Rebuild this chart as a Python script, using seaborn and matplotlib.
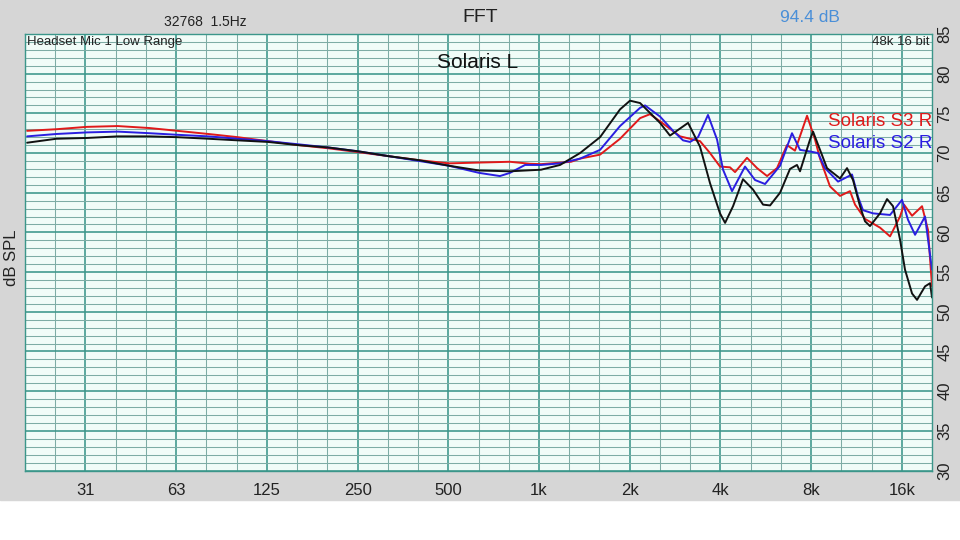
import numpy as np
import pandas as pd
import matplotlib
matplotlib.use("Agg")
import matplotlib.pyplot as plt
import matplotlib.ticker as ticker
from matplotlib.patches import Rectangle
import seaborn as sns

# frequency response readings (Hz, dB SPL)
red_freq = [20, 25, 31.6, 40, 51, 63, 80, 100, 126, 159, 200, 253, 318, 400, 503, 633, 801, 934, 1016,
            1278, 1369, 1595, 1858, 2166, 2337, 2522, 2940, 3424, 3696, 3989, 4306, 4475, 4903, 5295,
            5716, 6167, 6655, 7075, 7758, 8246, 8567, 9244, 9983, 10774, 11194, 12082, 13551, 14628,
            15789, 16278, 17309, 18682, 19556, 20160]
red_db = [72.8, 73.0, 73.3, 73.4, 73.15, 72.8, 72.4, 72.0, 71.5, 71.0, 70.6, 70.1, 69.6, 69.1, 68.7, 68.8,
          68.9, 68.65, 68.6, 68.9, 69.3, 69.8, 71.8, 74.4, 74.9, 74.0, 72.1, 71.5, 70.0, 68.3, 68.2, 67.6,
          69.4, 68.1, 67.1, 68.1, 71.0, 70.3, 74.7, 71.7, 69.3, 65.8, 64.6, 65.2, 63.5, 61.7, 60.6, 59.5,
          62.0, 63.5, 62.1, 63.3, 60.3, 53.2]

blue_freq = [20, 25, 31.6, 40, 51, 63, 80, 100, 126, 159, 200, 253, 318, 400, 503, 633, 742, 801, 899,
             1016, 1175, 1369, 1595, 1858, 2166, 2249, 2522, 2787, 3007, 3172, 3373, 3639, 3900, 4083,
             4373, 4829, 5214, 5628, 6311, 6915, 7352, 7937, 8437, 8900, 9833, 10940, 11452, 11897,
             12847, 14628, 16030, 16778, 17711, 19113, 20160]
blue_db = [72.1, 72.4, 72.6, 72.7, 72.5, 72.3, 72.1, 71.8, 71.5, 71.1, 70.7, 70.2, 69.6, 69.0, 68.4, 67.5,
           67.1, 67.5, 68.5, 68.5, 68.7, 69.3, 70.4, 73.4, 75.7, 76.0, 74.6, 72.8, 71.6, 71.4, 72.0, 74.8,
           71.7, 67.9, 65.2, 68.3, 66.6, 66.1, 68.4, 72.5, 70.4, 70.2, 70.0, 68.1, 66.4, 67.3, 64.5, 62.8,
           62.4, 62.2, 64.1, 61.6, 59.7, 62.0, 55.3]

black_freq = [20, 25, 31.6, 40, 51, 63, 80, 100, 126, 159, 200, 253, 318, 400, 503, 633, 801, 1016, 1175,
              1369, 1595, 1858, 2005, 2166, 2522, 2722, 3125, 3424, 3696, 3989, 4147, 4407, 4755, 5133,
              5543, 5848, 6311, 6811, 7183, 7352, 7937, 8122, 8567, 9036, 9983, 10530, 11024, 11629,
              12082, 12550, 13551, 14297, 14967, 15789, 16402, 17309, 17983, 19113, 19860, 20160]
black_db = [71.3, 71.8, 71.9, 72.1, 72.1, 72.0, 71.8, 71.6, 71.4, 71.0, 70.7, 70.2, 69.6, 69.1, 68.4, 67.8,
            67.7, 67.9, 68.5, 70.0, 72.0, 75.5, 76.6, 76.3, 73.8, 72.2, 73.8, 70.8, 66.2, 62.4, 61.2, 63.3,
            66.7, 65.4, 63.5, 63.4, 65.0, 68.0, 68.5, 67.7, 71.7, 72.7, 70.4, 68.1, 66.8, 68.1, 66.6, 63.3,
            61.4, 60.8, 62.4, 64.2, 63.3, 59.1, 55.3, 52.3, 51.5, 53.2, 53.6, 51.8]

octave_ticks = [31.25, 62.5, 125, 250, 500, 1000, 2000, 4000, 8000, 16000]
octave_labels = ["31", "63", "125", "250", "500", "1k", "2k", "4k", "8k", "16k"]
db_ticks = list(range(30, 90, 5))

df = pd.concat([
    pd.DataFrame({"freq": red_freq, "db": red_db, "series": "Solaris S3 R"}),
    pd.DataFrame({"freq": blue_freq, "db": blue_db, "series": "Solaris S2 R"}),
    pd.DataFrame({"freq": black_freq, "db": black_db, "series": "Solaris L"}),
])
colors = {"Solaris S3 R": "#e01a1a", "Solaris S2 R": "#2a1ee0", "Solaris L": "#111111"}

sns.set_style("white")
plt.rcParams["font.family"] = ["Liberation Sans", "DejaVu Sans"]

fig = plt.figure(figsize=(9.6, 5.4), dpi=100, facecolor="white")
fig.patches.append(Rectangle((0, 40 / 540), 1, 500 / 540, transform=fig.transFigure,
                             color="#d6d6d6", zorder=-5))
ax = fig.add_axes([25 / 960, 69.5 / 540, 907 / 960, 436.5 / 540])
ax.set_facecolor("#f1fcf8")

sns.lineplot(data=df, x="freq", y="db", hue="series", palette=colors, estimator=None,
             sort=False, linewidth=1.4, legend=False, ax=ax)
for line in ax.lines:
    line.set_solid_joinstyle("round")

ax.set_xscale("log", base=2)
ax.set_xlim(31.25 / 2 ** (2 / 3), 16000 * 2 ** (1 / 3))
ax.set_ylim(30, 85)

ax.xaxis.set_major_locator(ticker.FixedLocator(octave_ticks))
ax.xaxis.set_major_formatter(ticker.FixedFormatter(octave_labels))
thirds = [31.25 * 2 ** (k / 3) for k in range(-2, 31)]
ax.xaxis.set_minor_locator(ticker.FixedLocator(thirds))
ax.xaxis.set_minor_formatter(ticker.NullFormatter())
ax.yaxis.set_major_locator(ticker.FixedLocator(db_ticks))
ax.yaxis.set_minor_locator(ticker.MultipleLocator(1))

ax.set_axisbelow(True)
ax.grid(which="major", color="#3b968a", linewidth=1.15)
ax.grid(which="minor", color="#7eaca5", linewidth=0.75)

ax.yaxis.tick_right()
ax.tick_params(which="both", length=0)
ax.tick_params(axis="x", labelsize=12, pad=9, labelcolor="#222222")
ax.tick_params(axis="y", labelsize=12, pad=4, labelcolor="#222222")
plt.setp(ax.get_yticklabels(), rotation=90, va="center")
ax.set_xlabel("")
ax.set_ylabel("")
for s in ax.spines.values():
    s.set_color("#3b968a")
    s.set_linewidth(1)


def px(x, y):
    return x / 960, 1 - y / 540


fig.text(*px(205, 22), "32768  1.5Hz", fontsize=10, ha="center", va="center", color="#222222")
fig.text(*px(480, 17), "FFT", fontsize=14, ha="center", va="center", color="#222222")
fig.text(*px(810, 17), "94.4 dB", fontsize=12.5, ha="center", va="center", color="#4a8fd8")
fig.text(*px(12, 258), "dB SPL", fontsize=12, rotation=90, ha="center", va="center", color="#222222")
fig.text(*px(27, 42), "Headset Mic 1 Low Range", fontsize=9.5, ha="left", va="center", color="#222222")
fig.text(*px(930, 42), "48k 16 bit", fontsize=9.5, ha="right", va="center", color="#222222")
fig.text(*px(478, 62), "Solaris L", fontsize=15, ha="center", va="center", color="#111111")
fig.text(*px(932, 122), "Solaris S3 R", fontsize=13.5, ha="right", va="center", color="#e01a1a")
fig.text(*px(932, 143), "Solaris S2 R", fontsize=13.5, ha="right", va="center", color="#2a1ee0")

fig.savefig("out.png", dpi=100)
